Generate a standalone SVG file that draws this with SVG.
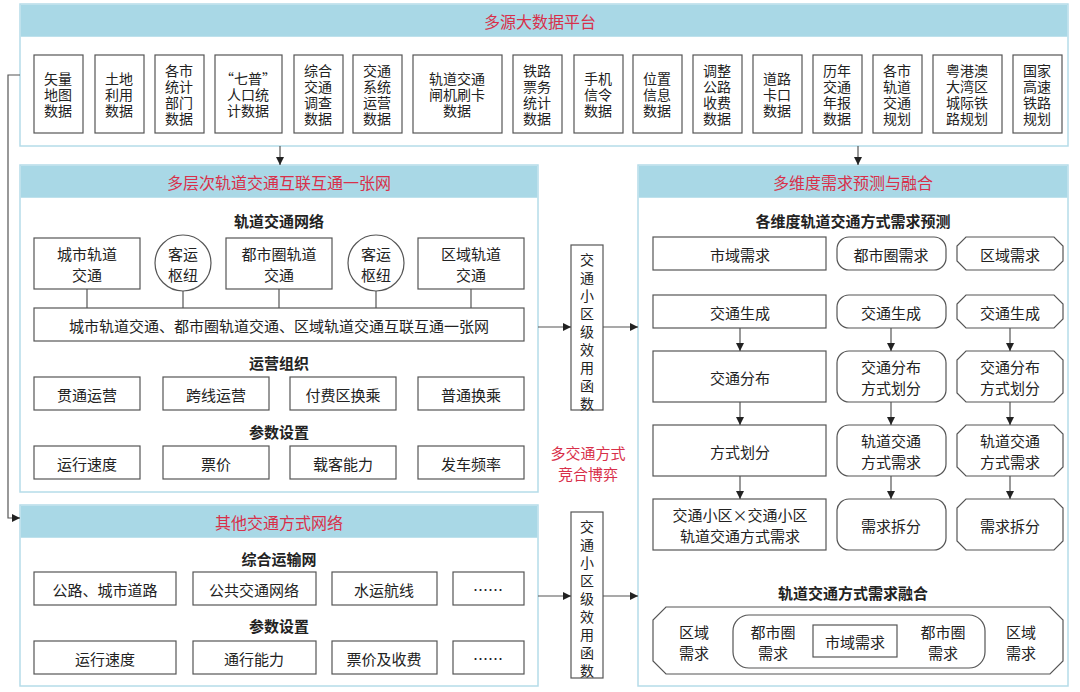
<svg xmlns="http://www.w3.org/2000/svg" width="1080" height="692" viewBox="0 0 1080 692">
<defs>
<style>
text{font-family:"Noto Sans CJK SC","Noto Sans",sans-serif;font-size:15px;fill:#222;text-anchor:middle;dominant-baseline:central}
.s{font-size:14px}
.t{fill:#d8304a;font-size:16px}
.h{font-weight:bold;font-size:15px}
.p{fill:#fff;stroke:#b5dce9;stroke-width:1.5}
.hd{fill:#a9d8e6}
.b{fill:#fff;stroke:#555;stroke-width:1.2}
.l{stroke:#555;stroke-width:1.2;fill:none}
.r{fill:#d8304a;font-size:15px}
</style>
<marker id="a" viewBox="0 0 10 10" refX="10" refY="5" markerWidth="8" markerHeight="8" orient="auto" markerUnits="userSpaceOnUse"><path d="M0,0L10,5L0,10z" fill="#222"/></marker>
</defs>
<rect width="1080" height="692" fill="#fff"/>

<g id="top">
<rect class="p" x="20" y="4" width="1048" height="142"/>
<rect class="hd" x="20.75" y="4.75" width="1046.5" height="32"/>
<text class="t" x="540" y="21">多源大数据平台</text>
<g class="b">
<rect x="34" y="55" width="49" height="78"/><rect x="95" y="55" width="49" height="78"/><rect x="155" y="55" width="49" height="78"/><rect x="215" y="55" width="67" height="78"/><rect x="294" y="55" width="49" height="78"/><rect x="353" y="55" width="49" height="78"/><rect x="413" y="55" width="89" height="78"/><rect x="513" y="55" width="49" height="78"/><rect x="574" y="55" width="49" height="78"/><rect x="633" y="55" width="49" height="78"/><rect x="693" y="55" width="49" height="78"/><rect x="753" y="55" width="49" height="78"/><rect x="813" y="55" width="49" height="78"/><rect x="873" y="55" width="49" height="78"/><rect x="933" y="55" width="69" height="78"/><rect x="1013" y="55" width="49" height="78"/>
</g>
<text class="s" y="78"><tspan x="58">矢量</tspan><tspan x="58" dy="16">地图</tspan><tspan x="58" dy="16">数据</tspan></text>
<text class="s" y="78"><tspan x="119">土地</tspan><tspan x="119" dy="16">利用</tspan><tspan x="119" dy="16">数据</tspan></text>
<text class="s" y="70"><tspan x="179">各市</tspan><tspan x="179" dy="16">统计</tspan><tspan x="179" dy="16">部门</tspan><tspan x="179" dy="16">数据</tspan></text>
<text class="s" y="78"><tspan x="248">“七普”</tspan><tspan x="248" dy="16">人口统</tspan><tspan x="248" dy="16">计数据</tspan></text>
<text class="s" y="70"><tspan x="318">综合</tspan><tspan x="318" dy="16">交通</tspan><tspan x="318" dy="16">调查</tspan><tspan x="318" dy="16">数据</tspan></text>
<text class="s" y="70"><tspan x="377">交通</tspan><tspan x="377" dy="16">系统</tspan><tspan x="377" dy="16">运营</tspan><tspan x="377" dy="16">数据</tspan></text>
<text class="s" y="78"><tspan x="457">轨道交通</tspan><tspan x="457" dy="16">闸机刷卡</tspan><tspan x="457" dy="16">数据</tspan></text>
<text class="s" y="70"><tspan x="537">铁路</tspan><tspan x="537" dy="16">票务</tspan><tspan x="537" dy="16">统计</tspan><tspan x="537" dy="16">数据</tspan></text>
<text class="s" y="78"><tspan x="598">手机</tspan><tspan x="598" dy="16">信令</tspan><tspan x="598" dy="16">数据</tspan></text>
<text class="s" y="78"><tspan x="657">位置</tspan><tspan x="657" dy="16">信息</tspan><tspan x="657" dy="16">数据</tspan></text>
<text class="s" y="70"><tspan x="717">调整</tspan><tspan x="717" dy="16">公路</tspan><tspan x="717" dy="16">收费</tspan><tspan x="717" dy="16">数据</tspan></text>
<text class="s" y="78"><tspan x="777">道路</tspan><tspan x="777" dy="16">卡口</tspan><tspan x="777" dy="16">数据</tspan></text>
<text class="s" y="70"><tspan x="837">历年</tspan><tspan x="837" dy="16">交通</tspan><tspan x="837" dy="16">年报</tspan><tspan x="837" dy="16">数据</tspan></text>
<text class="s" y="70"><tspan x="897">各市</tspan><tspan x="897" dy="16">轨道</tspan><tspan x="897" dy="16">交通</tspan><tspan x="897" dy="16">规划</tspan></text>
<text class="s" y="70"><tspan x="967">粤港澳</tspan><tspan x="967" dy="16">大湾区</tspan><tspan x="967" dy="16">城际铁</tspan><tspan x="967" dy="16">路规划</tspan></text>
<text class="s" y="70"><tspan x="1037">国家</tspan><tspan x="1037" dy="16">高速</tspan><tspan x="1037" dy="16">铁路</tspan><tspan x="1037" dy="16">规划</tspan></text>
</g>

<g id="rail">
<rect class="p" x="20" y="165" width="518" height="327"/>
<rect class="hd" x="20.75" y="165.75" width="516.5" height="32"/>
<text class="t" x="279" y="182">多层次轨道交通互联互通一张网</text>
<text class="h" x="279" y="220">轨道交通网络</text>
<g class="l"><path d="M87,289V308M183,291V308M279,289V308M376,291V308M471,289V308"/></g>
<rect class="b" x="34" y="238" width="106" height="51"/><text y="253"><tspan x="87">城市轨道</tspan><tspan x="87" dy="21">交通</tspan></text>
<circle class="b" cx="183" cy="263" r="28"/><text y="253"><tspan x="183">客运</tspan><tspan x="183" dy="21">枢纽</tspan></text>
<rect class="b" x="226" y="238" width="106" height="51"/><text y="253"><tspan x="279">都市圈轨道</tspan><tspan x="279" dy="21">交通</tspan></text>
<circle class="b" cx="376" cy="263" r="28"/><text y="253"><tspan x="376">客运</tspan><tspan x="376" dy="21">枢纽</tspan></text>
<rect class="b" x="418" y="238" width="106" height="51"/><text y="253"><tspan x="471">区域轨道</tspan><tspan x="471" dy="21">交通</tspan></text>
<rect class="b" x="34" y="308" width="490" height="33"/><text x="279" y="325">城市轨道交通、都市圈轨道交通、区域轨道交通互联互通一张网</text>
<text class="h" x="279" y="362">运营组织</text>
<rect class="b" x="34" y="377" width="106" height="33"/><text x="87" y="394">贯通运营</text>
<rect class="b" x="163" y="377" width="106" height="33"/><text x="216" y="394">跨线运营</text>
<rect class="b" x="290" y="377" width="106" height="33"/><text x="343" y="394">付费区换乘</text>
<rect class="b" x="418" y="377" width="106" height="33"/><text x="471" y="394">普通换乘</text>
<text class="h" x="279" y="431">参数设置</text>
<rect class="b" x="34" y="446" width="106" height="33"/><text x="87" y="463">运行速度</text>
<rect class="b" x="163" y="446" width="106" height="33"/><text x="216" y="463">票价</text>
<rect class="b" x="290" y="446" width="106" height="33"/><text x="343" y="463">载客能力</text>
<rect class="b" x="418" y="446" width="106" height="33"/><text x="471" y="463">发车频率</text>
</g>

<g id="other">
<rect class="p" x="20" y="505" width="518" height="181"/>
<rect class="hd" x="20.75" y="505.75" width="516.5" height="32"/>
<text class="t" x="279" y="522">其他交通方式网络</text>
<text class="h" x="279" y="558">综合运输网</text>
<rect class="b" x="34" y="572" width="142" height="33"/><text x="105" y="589">公路、城市道路</text>
<rect class="b" x="193" y="572" width="123" height="33"/><text x="254" y="589">公共交通网络</text>
<rect class="b" x="332" y="572" width="105" height="33"/><text x="384" y="589">水运航线</text>
<rect class="b" x="453" y="572" width="71" height="33"/><text x="488" y="589">……</text>
<text class="h" x="279" y="625">参数设置</text>
<rect class="b" x="34" y="641" width="142" height="33"/><text x="105" y="658">运行速度</text>
<rect class="b" x="193" y="641" width="123" height="33"/><text x="254" y="658">通行能力</text>
<rect class="b" x="332" y="641" width="105" height="33"/><text x="384" y="658">票价及收费</text>
<rect class="b" x="453" y="641" width="71" height="33"/><text x="488" y="658">……</text>
</g>

<g id="util1">
<rect class="b" x="571" y="245" width="32" height="165"/>
<text class="s" y="259"><tspan x="587">交</tspan><tspan x="587" dy="18">通</tspan><tspan x="587" dy="18">小</tspan><tspan x="587" dy="18">区</tspan><tspan x="587" dy="18">级</tspan><tspan x="587" dy="18">效</tspan><tspan x="587" dy="18">用</tspan><tspan x="587" dy="18">函</tspan><tspan x="587" dy="18">数</tspan></text>
</g>
<g id="game"><text class="r" y="452"><tspan x="588">多交通方式</tspan><tspan x="588" dy="21">竞合博弈</tspan></text></g>
<g id="util2">
<rect class="b" x="571" y="512" width="32" height="166"/>
<text class="s" y="526"><tspan x="587">交</tspan><tspan x="587" dy="18">通</tspan><tspan x="587" dy="18">小</tspan><tspan x="587" dy="18">区</tspan><tspan x="587" dy="18">级</tspan><tspan x="587" dy="18">效</tspan><tspan x="587" dy="18">用</tspan><tspan x="587" dy="18">函</tspan><tspan x="587" dy="18">数</tspan></text>
</g>

<g id="demand">
<rect class="p" x="638" y="165" width="430" height="521"/>
<rect class="hd" x="638.75" y="165.75" width="428.5" height="32"/>
<text class="t" x="853" y="182">多维度需求预测与融合</text>
<text class="h" x="853" y="220">各维度轨道交通方式需求预测</text>
<g class="b">
<rect x="653" y="237" width="173" height="33"/><rect x="837" y="237" width="109" height="33" rx="12"/><path d="M966,237H1054L1063,246V261L1054,270H966L957,261V246Z"/>
<rect x="653" y="295" width="173" height="33"/><rect x="837" y="295" width="109" height="33" rx="12"/><path d="M966,295H1054L1063,304V319L1054,328H966L957,319V304Z"/>
<rect x="653" y="351" width="173" height="51"/><rect x="837" y="351" width="109" height="51" rx="12"/><path d="M966,351H1054L1063,360V393L1054,402H966L957,393V360Z"/>
<rect x="653" y="425" width="173" height="51"/><rect x="837" y="425" width="109" height="51" rx="12"/><path d="M966,425H1054L1063,434V467L1054,476H966L957,467V434Z"/>
<rect x="653" y="499" width="173" height="51"/><rect x="837" y="499" width="109" height="51" rx="12"/><path d="M966,499H1054L1063,508V541L1054,550H966L957,541V508Z"/>
</g>
<text x="740" y="254">市域需求</text><text x="891" y="254">都市圈需求</text><text x="1010" y="254">区域需求</text>
<text x="740" y="312">交通生成</text><text x="891" y="312">交通生成</text><text x="1010" y="312">交通生成</text>
<text x="740" y="377">交通分布</text>
<text y="366"><tspan x="891">交通分布</tspan><tspan x="891" dy="21">方式划分</tspan></text>
<text y="366"><tspan x="1010">交通分布</tspan><tspan x="1010" dy="21">方式划分</tspan></text>
<text x="740" y="451">方式划分</text>
<text y="440"><tspan x="891">轨道交通</tspan><tspan x="891" dy="21">方式需求</tspan></text>
<text y="440"><tspan x="1010">轨道交通</tspan><tspan x="1010" dy="21">方式需求</tspan></text>
<text y="514"><tspan x="740">交通小区×交通小区</tspan><tspan x="740" dy="21">轨道交通方式需求</tspan></text>
<text x="891" y="525">需求拆分</text><text x="1010" y="525">需求拆分</text>
<text class="h" x="853" y="592">轨道交通方式需求融合</text>
<path class="b" d="M666,607H1050L1063,620V661L1050,674H666L653,661V620Z"/>
<rect class="b" x="733" y="615" width="252" height="53" rx="16"/>
<rect class="b" x="813" y="625" width="84" height="32"/>
<text y="631"><tspan x="694">区域</tspan><tspan x="694" dy="21">需求</tspan></text>
<text y="631"><tspan x="773">都市圈</tspan><tspan x="773" dy="21">需求</tspan></text>
<text x="855" y="641">市域需求</text>
<text y="631"><tspan x="943">都市圈</tspan><tspan x="943" dy="21">需求</tspan></text>
<text y="631"><tspan x="1021">区域</tspan><tspan x="1021" dy="21">需求</tspan></text>
</g>

<g id="connectors" class="l" marker-end="url(#a)">
<path d="M280,146V165"/><path d="M858,146V165"/>
<path d="M538,327H571"/><path d="M603,327H638"/>
<path d="M538,596H571"/><path d="M603,596H638"/>
<path d="M20,75H8V518H20"/>
<path d="M740,328V351"/><path d="M740,402V425"/><path d="M740,476V499"/>
<path d="M891,328V351"/><path d="M891,402V425"/><path d="M891,476V499"/>
<path d="M1010,328V351"/><path d="M1010,402V425"/><path d="M1010,476V499"/>
</g>
</svg>
